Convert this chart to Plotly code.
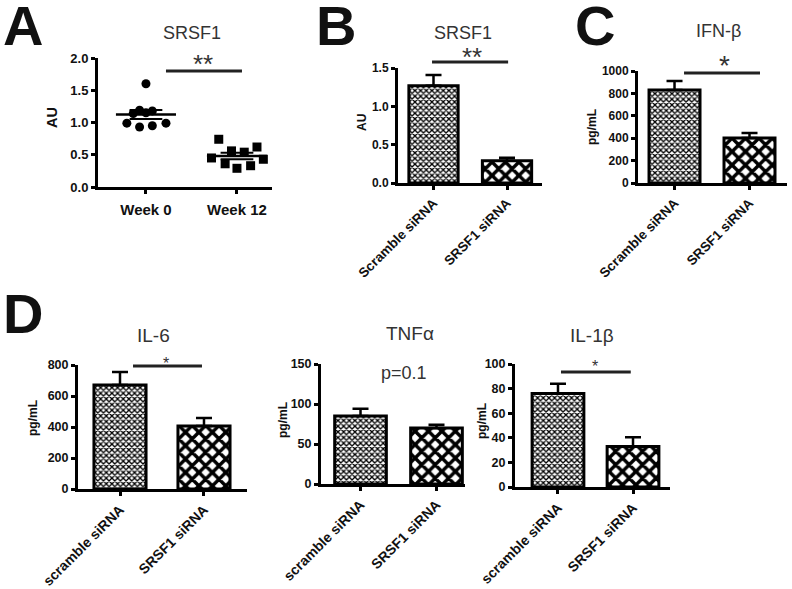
import numpy as np
import plotly.graph_objects as go

W, H = 792, 589
FONT = "Liberation Sans, Arial, Helvetica, sans-serif"

# ---------------- data ----------------
weeks = ["Week 0", "Week 12"]
week0_au = [1.60, 1.19, 1.18, 1.14, 1.15, 0.99, 0.93, 0.95, 0.99]
week0_jitter = [0.0, -0.07, 0.07, -0.14, 0.0, -0.21, -0.07, 0.07, 0.22]
week12_au = [0.74, 0.56, 0.54, 0.62, 0.45, 0.36, 0.29, 0.33, 0.43]
week12_jitter = [-0.20, -0.06, 0.08, 0.22, -0.28, -0.13, 0.0, 0.15, 0.29]

groups_bc = ["Scramble siRNA", "SRSF1 siRNA"]
groups_d = ["scramble siRNA", "SRSF1 siRNA"]

srsf1_mean = [1.27, 0.29]
srsf1_sem = [0.14, 0.04]
ifnb_mean = [830, 402]
ifnb_sem = [81, 44]
il6_mean = [671, 406]
il6_sem = [84, 52]
tnfa_mean = [85, 70]
tnfa_sem = [9, 4]
il1b_mean = [76, 33]
il1b_sem = [8, 7.5]


def px(x):
    return x / W


def py(y):
    return 1 - y / H


fig = go.Figure()
fig.update_layout(template="none")

axis_common = dict(
    showline=True, linecolor="black", linewidth=3, mirror=False,
    ticks="outside", ticklen=4, tickwidth=2.5, tickcolor="black",
    showgrid=False, zeroline=False, fixedrange=True, automargin=False,
)


def set_axes(n, xdom, ydom, xrange, yrange, ytickvals, ytickfmt, xticktext,
             ytfs, xtfs, xangle):
    xs = "xaxis" if n == 1 else f"xaxis{n}"
    ys = "yaxis" if n == 1 else f"yaxis{n}"
    yname = "y" if n == 1 else f"y{n}"
    xname = "x" if n == 1 else f"x{n}"
    fig.update_layout(**{
        xs: dict(axis_common, domain=[px(xdom[0]), px(xdom[1])], range=xrange,
                 tickvals=[0, 1], ticktext=xticktext, tickangle=xangle,
                 anchor=yname,
                 tickfont=dict(family=FONT, size=xtfs, color="#111", weight="bold")),
        ys: dict(axis_common, domain=[py(ydom[1]), py(ydom[0])], range=yrange,
                 tickvals=ytickvals, tickformat=ytickfmt, anchor=xname,
                 tickfont=dict(family=FONT, size=ytfs, color="#111", weight="bold")),
    })


# ---------------- Panel A: dot plot ----------------
for vals, jit, sym, c in [(week0_au, week0_jitter, "circle", 0),
                          (week12_au, week12_jitter, "square", 1)]:
    xs = [c + j for j in jit]
    fig.add_trace(go.Scatter(x=xs, y=vals, mode="markers", xaxis="x", yaxis="y",
                             marker=dict(symbol=sym, size=9, color="black",
                                         line=dict(width=0)),
                             showlegend=False, hoverinfo="skip"))
    arr = np.array(vals)
    m = arr.mean()
    sem = arr.std(ddof=1) / np.sqrt(len(arr))
    fig.add_trace(go.Scatter(x=[c - 0.33, c + 0.33], y=[m, m], mode="lines",
                             xaxis="x", yaxis="y", line=dict(color="black", width=2.5),
                             showlegend=False, hoverinfo="skip"))
    for s in (m - sem, m + sem):
        fig.add_trace(go.Scatter(x=[c - 0.18, c + 0.18], y=[s, s], mode="lines",
                                 xaxis="x", yaxis="y", line=dict(color="black", width=2),
                                 showlegend=False, hoverinfo="skip"))

set_axes(1, (98, 272), (58, 187), [-0.527, 1.385], [0, 2.0],
         [0, 0.5, 1.0, 1.5, 2.0], ".1f", weeks, 13, 15, 0)
fig.update_layout(xaxis=dict(ticklabelstandoff=3))

# ---------------- bar panels ----------------
fine = dict(shape="x", size=4, solidity=0.55)
coarse = dict(shape="x", size=9.5, solidity=0.6)


def bar_panel(n, means, sems, width):
    xn = "x" if n == 1 else f"x{n}"
    yn = "y" if n == 1 else f"y{n}"
    fig.add_trace(go.Bar(
        x=[0, 1], y=means, xaxis=xn, yaxis=yn, width=width,
        marker=dict(color="white", line=dict(color="black", width=3),
                    pattern=dict(shape=[fine["shape"], coarse["shape"]],
                                 size=[fine["size"], coarse["size"]],
                                 solidity=[fine["solidity"], coarse["solidity"]],
                                 fgcolor="black", bgcolor="white",
                                 fillmode="replace")),
        error_y=dict(type="data", symmetric=False, array=sems,
                     arrayminus=[0, 0], color="black", thickness=2.5, width=8),
        showlegend=False, hoverinfo="skip"))


bar_panel(2, srsf1_mean, srsf1_sem, 0.67)
set_axes(2, (398, 542), (68, 183), [-0.483, 1.476], [0, 1.5],
         [0, 0.5, 1.0, 1.5], ".1f", groups_bc, 12, 13.5, -45)

bar_panel(3, ifnb_mean, ifnb_sem, 0.68)
set_axes(3, (638, 787), (71, 183), [-0.487, 1.5], [0, 1000],
         [0, 200, 400, 600, 800, 1000], "d", groups_bc, 12, 13.5, -45)

bar_panel(4, il6_mean, il6_sem, 0.62)
set_axes(4, (78, 247), (365, 489), [-0.5, 1.512], [0, 800],
         [0, 200, 400, 600, 800], "d", groups_d, 12.5, 14, -45)

bar_panel(5, tnfa_mean, tnfa_sem, 0.68)
set_axes(5, (321, 465), (364, 484), [-0.52, 1.375], [0, 150],
         [0, 50, 100, 150], "d", groups_d, 12.5, 14, -45)

bar_panel(6, il1b_mean, il1b_sem, 0.69)
set_axes(6, (515, 670), (364, 487), [-0.573, 1.493], [0, 100],
         [0, 20, 40, 60, 80, 100], "d", groups_d, 12.5, 14, -45)

# ---------------- annotations ----------------
ann = []


def text(x, y, s, size, bold=False, color="#222", angle=0):
    ann.append(dict(x=px(x), y=py(y), xref="paper", yref="paper", text=s,
                    showarrow=False, xanchor="center", yanchor="middle",
                    textangle=angle,
                    font=dict(family=FONT, size=size, color=color,
                              weight="bold" if bold else "normal")))


# panel letters
text(23, 26, "A", 56, True, "#111")
text(336, 26, "B", 56, True, "#111")
text(595, 26, "C", 56, True, "#111")
text(23, 313, "D", 56, True, "#111")

# titles
text(192, 33, "SRSF1", 18, color="#333")
text(463, 33, "SRSF1", 18, color="#333")
text(718, 31, "IFN-β", 18, color="#333")
text(153, 335, "IL-6", 19, color="#333")
text(410, 333, "TNFα", 19, color="#333")
text(592, 335, "IL-1β", 19, color="#333")

# y-axis labels
text(52, 118, "AU", 14.5, True, "#111", -90)
text(362, 123, "AU", 12, True, "#111", -90)
text(592, 127, "pg/mL", 12, True, "#111", -90)
text(33, 418, "pg/mL", 12, True, "#111", -90)
text(283, 420, "pg/mL", 12, True, "#111", -90)
text(482, 421, "pg/mL", 12, True, "#111", -90)

# significance marks
text(203, 64, "**", 26, color="#333")
text(472, 57, "**", 26, color="#333")
text(724, 66, "*", 28, color="#333")
text(166, 363, "*", 16, color="#333")
text(595, 366, "*", 16, color="#333")
text(404, 373, "p=0.1", 18, color="#333")

fig.update_layout(annotations=ann)

# significance bars (x in category units, y in paper)
sig = [("x", 0.22, 1.055, 71), ("x2", -0.02, 1.015, 62), ("x3", 0.127, 1.14, 73),
       ("x4", 0.155, 0.976, 366), ("x6", 0.04, 0.97, 372)]
for xr, x0, x1, yy in sig:
    fig.add_shape(type="line", xref=xr, yref="paper", x0=x0, x1=x1,
                  y0=py(yy), y1=py(yy), line=dict(color="#222", width=3))

fig.update_layout(width=W, height=H, margin=dict(l=0, r=0, t=0, b=0),
                  paper_bgcolor="white", plot_bgcolor="white",
                  bargap=0.3, showlegend=False)

fig.write_html("out.html", config={"displayModeBar": False},
               post_script="document.body.style.margin='0';"
                           "document.body.style.overflow='hidden';")
